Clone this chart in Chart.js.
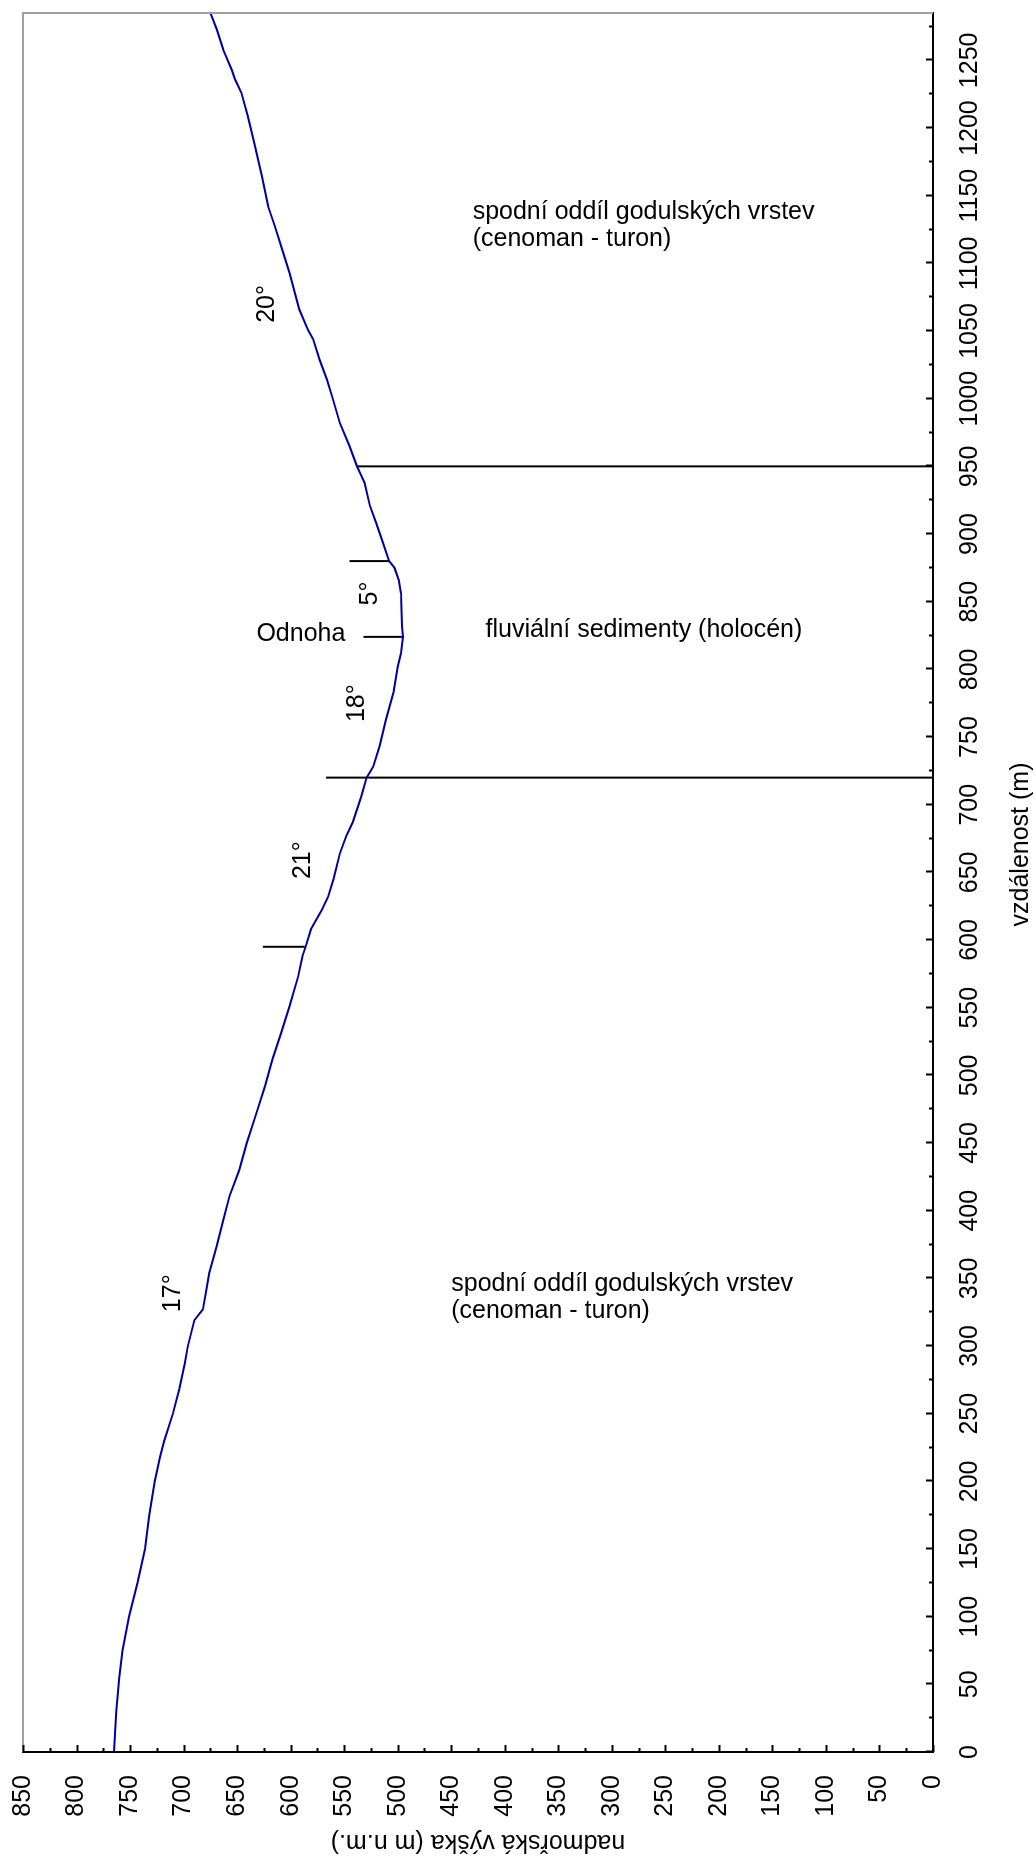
<!DOCTYPE html>
<html>
<head>
<meta charset="utf-8">
<script src="https://cdn.jsdelivr.net/npm/chart.js@4/dist/chart.umd.min.js"></script>
<style>
  html, body { margin: 0; padding: 0; background: #fff; width: 1036px; height: 1858px; overflow: hidden; }
  /* the profile is laid out landscape and turned a quarter turn to stand upright */
  #frame { position: absolute; left: 0; top: 0; width: 1858px; height: 1036px;
           transform-origin: 0 0; transform: translate(0, 1858px) rotate(-90deg); }
  canvas { display: block; }
</style>
</head>
<body>
<div id="frame"><canvas id="profile" width="1858" height="1036"></canvas></div>
<script>
// terrain profile: distance along the section (m) and altitude (m n.m.)
const distance = [0, 30, 55, 75, 100, 125, 150, 175, 200, 218, 230, 250, 268, 287, 300, 319, 327, 340,
  354, 374, 393, 411, 430, 450, 472, 492, 512, 531, 551, 573, 588, 595, 608, 622, 632, 645, 664, 677,
  687, 706, 720, 728, 743, 763, 783, 802, 812, 824, 832, 856, 866, 875, 880, 894, 908, 921, 938, 943,
  950, 965, 982, 1001, 1014, 1029, 1044, 1051, 1066, 1093, 1113, 1128, 1142, 1165, 1189, 1209, 1226,
  1236, 1243, 1258, 1273, 1285];
const elevation = [765, 763, 760, 757, 751, 743, 736, 732, 727, 722, 718, 710, 704, 699, 696, 690, 682, 679,
  676, 669, 663, 657, 648, 641, 632, 624, 617, 609, 601, 593, 589, 586, 581, 571, 565, 560, 554, 548,
  542, 534, 529, 523, 517, 511, 504, 500, 497, 495, 496, 497, 499, 503, 508, 514, 520, 526, 531, 534,
  538, 545, 554, 561, 566, 573, 579, 584, 592, 601, 609, 615, 621, 627, 634, 640, 646,
  652, 655, 663, 669, 675];

// boundary and slope-break markers: distance, upper and lower altitude
const markerDistance = [595, 720, 824, 880, 950];
const markerTop      = [626, 567, 532, 545, 538];
const markerBottom   = [586,   0, 494, 508,   0];

// slope angles written beside the profile
const slopeText      = ['17°', '21°', '18°', '5°', '20°'];
const slopeDistance  = [339, 659, 775, 856, 1070];
const slopeElevation = [710, 588, 538, 526, 622];

// unit descriptions and place name (written across the profile)
const noteText      = ['spodní oddíl godulských vrstev', '(cenoman - turon)',
                       'spodní oddíl godulských vrstev', '(cenoman - turon)',
                       'fluviální sedimenty (holocén)', 'Odnoha'];
const noteDistance  = [1138, 1118, 346, 326, 829, 826];
const noteElevation = [430, 430, 450, 450, 418, 632];

const xTitle = 'vzdálenost (m)';
const yTitle = 'nadmořská výška (m n.m.)';

const FONT = '"Liberation Sans", Arial, sans-serif';
Chart.defaults.font.family = FONT;
Chart.defaults.font.size = 25;
Chart.defaults.color = '#000';

const profilePoints = distance.map((d, i) => ({ x: d, y: elevation[i] }));
const markerSets = markerDistance.map((d, i) => ({
  data: [{ x: d, y: markerBottom[i] }, { x: d, y: markerTop[i] }],
  borderColor: '#000', borderWidth: 2, pointRadius: 0, tension: 0
}));

const decor = {
  id: 'profileDecor',
  afterDraw(chart) {
    const { ctx, chartArea: a, scales: { x, y } } = chart;
    ctx.save();
    // light frame on the open sides of the plot
    ctx.strokeStyle = '#a0a0a0';
    ctx.lineWidth = 2;
    ctx.beginPath();
    ctx.moveTo(a.left, a.top);
    ctx.lineTo(a.right, a.top);
    ctx.lineTo(a.right, a.bottom);
    ctx.stroke();

    // inward tick marks, long on every 50 m, short in between
    ctx.strokeStyle = '#000';
    ctx.lineWidth = 2;
    ctx.beginPath();
    for (let v = 0; v <= x.max; v += 25) {
      const px = Math.round(x.getPixelForValue(v)) + 0.5;
      const len = v % 50 === 0 ? 7 : 4;
      ctx.moveTo(px, a.bottom);
      ctx.lineTo(px, a.bottom - len);
    }
    for (let v = 0; v <= y.max; v += 25) {
      const py = Math.round(y.getPixelForValue(v)) + 0.5;
      const len = v % 50 === 0 ? 7 : 4;
      ctx.moveTo(a.left, py);
      ctx.lineTo(a.left + len, py);
    }
    ctx.stroke();

    ctx.fillStyle = '#000';
    ctx.font = '25px ' + FONT;
    // distance axis title, set a little towards the far end of the section
    ctx.textAlign = 'center';
    ctx.textBaseline = 'middle';
    ctx.fillText(xTitle, (a.left + a.right) / 2 + 38, chart.height - 15);

    // slope angles
    slopeText.forEach((t, i) => {
      ctx.fillText(t, x.getPixelForValue(slopeDistance[i]), y.getPixelForValue(slopeElevation[i]));
    });
    // notes run across the section
    ctx.textAlign = 'left';
    noteText.forEach((t, i) => {
      ctx.save();
      ctx.translate(x.getPixelForValue(noteDistance[i]), y.getPixelForValue(noteElevation[i]));
      ctx.rotate(Math.PI / 2);
      ctx.fillText(t, 0, 0);
      ctx.restore();
    });
    ctx.restore();
  }
};

new Chart(document.getElementById('profile'), {
  type: 'line',
  data: {
    datasets: [{
      data: profilePoints,
      borderColor: '#0000a0',
      borderWidth: 2,
      pointRadius: 0,
      tension: 0
    }, ...markerSets]
  },
  options: {
    responsive: false,
    animation: false,
    events: [],
    layout: { padding: { top: 23, right: 13, left: 0, bottom: 0 } },
    plugins: { legend: { display: false }, tooltip: { enabled: false } },
    scales: {
      x: {
        type: 'linear',
        position: 'bottom',
        min: 0,
        max: 1285,
        grid: { display: false, drawTicks: false },
        border: { color: '#000', width: 2 },
        ticks: { stepSize: 50, includeBounds: false, padding: 22, maxRotation: 0, autoSkip: false,
                 callback: v => String(v) },
        title: { display: false },
        afterFit(scale) {
          scale.height = 103;
          scale.paddingLeft = 0;
          scale.paddingRight = 0;
        }
      },
      y: {
        type: 'linear',
        position: 'left',
        min: 0,
        max: 850,
        grid: { display: false, drawTicks: false },
        border: { color: '#000', width: 2 },
        ticks: { stepSize: 50, includeBounds: false, padding: 23, autoSkip: false,
                 callback: v => String(v) },
        title: { display: true, text: yTitle, padding: { top: 1, bottom: 0 } },
        afterFit(scale) {
          scale.width = 106;
          scale.paddingTop = 0;
          scale.paddingBottom = 0;
        }
      }
    }
  },
  plugins: [decor]
});
</script>
</body>
</html>
